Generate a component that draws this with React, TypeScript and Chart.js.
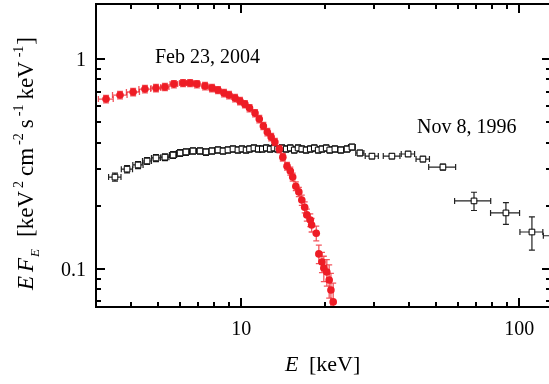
import { useEffect, useRef } from "react";
import { Chart, registerables } from "chart.js";
Chart.register(...registerables);

// Feb 23, 2004 spectrum (red filled circles)
const redE = [3.26, 3.66, 4.08, 4.5, 4.93, 5.31, 5.72, 6.17, 6.54, 6.92, 7.4, 7.84, 8.24, 8.66, 9.03, 9.49, 9.89, 10.3, 10.7, 11.2, 11.6, 12.0, 12.4, 12.8, 13.2, 13.7, 14.1, 14.6, 15.0, 15.3, 15.7, 16.1, 16.5, 16.9, 17.2, 17.7, 17.9, 18.6, 19.0, 19.5, 19.8, 20.3, 20.7, 21.0, 21.4];
const redF = [0.645, 0.674, 0.697, 0.72, 0.728, 0.736, 0.76, 0.769, 0.769, 0.76, 0.744, 0.728, 0.712, 0.689, 0.674, 0.652, 0.631, 0.61, 0.584, 0.553, 0.518, 0.48, 0.449, 0.425, 0.403, 0.373, 0.341, 0.309, 0.293, 0.274, 0.248, 0.233, 0.213, 0.197, 0.181, 0.171, 0.162, 0.148, 0.118, 0.108, 0.101, 0.0968, 0.0886, 0.0794, 0.0697];
const redDE = [0.2, 0.22, 0.22, 0.22, 0.2, 0.18, 0.18, 0.18, 0.17, 0.17, 0.17, 0.17, 0.15, 0.15, 0.15, 0.17, 0.17, 0.18, 0.18, 0.18, 0.17, 0.17, 0.18, 0.18, 0.18, 0.2, 0.2, 0.2, 0.18, 0.18, 0.2, 0.2, 0.2, 0.2, 0.2, 0.2, 0.2, 0.25, 0.25, 0.3, 0.3, 0.3, 0.3, 0.3, 0.3];
const redDF = [0.026, 0.027, 0.028, 0.029, 0.029, 0.029, 0.03, 0.03, 0.03, 0.03, 0.03, 0.029, 0.028, 0.028, 0.027, 0.026, 0.025, 0.024, 0.023, 0.022, 0.021, 0.019, 0.018, 0.017, 0.016, 0.015, 0.014, 0.013, 0.013, 0.012, 0.012, 0.012, 0.012, 0.012, 0.012, 0.012, 0.012, 0.012, 0.012, 0.012, 0.014, 0.014, 0.016, 0.016, 0.016];

// Nov 8, 1996 spectrum (black open squares)
const blackE = [3.51, 3.88, 4.25, 4.58, 4.93, 5.31, 5.68, 6.02, 6.32, 6.7, 7.1, 7.46, 7.84, 8.24, 8.59, 8.95, 9.33, 9.72, 10.05, 10.4, 10.7, 11.1, 11.5, 11.9, 12.3, 12.7, 13.1, 13.5, 14.0, 14.5, 15.0, 15.5, 16.0, 16.5, 17.1, 17.7, 18.3, 18.9, 19.5, 20.2, 20.8, 21.7, 22.8, 24.0, 25.0, 26.7, 29.5, 34.8, 39.8, 45.0, 53.1, 68.7, 89.5, 111, 140];
const blackF = [0.274, 0.299, 0.313, 0.327, 0.338, 0.341, 0.349, 0.357, 0.361, 0.365, 0.365, 0.361, 0.365, 0.369, 0.365, 0.369, 0.373, 0.369, 0.373, 0.369, 0.373, 0.377, 0.373, 0.373, 0.377, 0.373, 0.377, 0.373, 0.377, 0.373, 0.377, 0.369, 0.377, 0.373, 0.369, 0.373, 0.377, 0.369, 0.373, 0.377, 0.369, 0.373, 0.369, 0.373, 0.381, 0.357, 0.345, 0.345, 0.353, 0.334, 0.306, 0.211, 0.185, 0.15, 0.144];
const blackDE = [0.18, 0.18, 0.18, 0.17, 0.18, 0.18, 0.17, 0.18, 0.19, 0.2, 0.18, 0.19, 0.2, 0.2, 0.18, 0.19, 0.2, 0.2, 0.21, 0.22, 0.22, 0.23, 0.24, 0.25, 0.26, 0.27, 0.27, 0.28, 0.29, 0.3, 0.31, 0.32, 0.33, 0.34, 0.36, 0.37, 0.38, 0.4, 0.41, 0.42, 0.45, 0.5, 0.55, 0.6, 0.7, 0.9, 1.6, 2.4, 2.2, 2.5, 5.9, 10.2, 10.7, 10.5, 18];
const blackDF = [0.012, 0.012, 0.012, 0.012, 0.013, 0.013, 0.013, 0.013, 0.013, 0.013, 0.013, 0.013, 0.013, 0.013, 0.013, 0.013, 0.013, 0.013, 0.013, 0.013, 0.013, 0.013, 0.013, 0.013, 0.013, 0.013, 0.013, 0.013, 0.013, 0.013, 0.013, 0.013, 0.013, 0.013, 0.013, 0.013, 0.013, 0.013, 0.013, 0.013, 0.013, 0.013, 0.013, 0.013, 0.013, 0.011, 0.01, 0.01, 0.01, 0.01, 0.01, 0.021, 0.022, 0.027, 0.03];

const xRange = [3, 130];
const yRange = [0.0659, 1.83];
const xMajorTicks = [10, 100];
const xMinorTicks = [4, 5, 6, 7, 8, 9, 20, 30, 40, 50, 60, 70, 80, 90];
const yMajorTicks = [0.1, 1];
const yMinorTicks = [0.07, 0.08, 0.09, 0.2, 0.3, 0.4, 0.5, 0.6, 0.7, 0.8, 0.9];
const xTickLabels = ["10", "100"];
const yTickLabels = ["0.1", "1"];
const labelFeb = "Feb 23, 2004";
const labelNov = "Nov 8, 1996";

const SERIF = "'Liberation Serif', 'Times New Roman', serif";

const errorBarPlugin = {
  id: "errorBars",
  beforeDatasetDraw(chart: any, args: any) {
    const ds = chart.data.datasets[args.index];
    const { ctx, chartArea, scales } = chart;
    const x = scales.x;
    const y = scales.y;
    ctx.save();
    ctx.beginPath();
    ctx.rect(chartArea.left, chartArea.top, chartArea.right - chartArea.left, chartArea.bottom - chartArea.top);
    ctx.clip();
    ctx.strokeStyle = ds.errColor;
    ctx.lineWidth = ds.errWidth;
    const cap = 3;
    ds.data.forEach((p: any, i: number) => {
      const px = x.getPixelForValue(p.x);
      const py = y.getPixelForValue(p.y);
      const x0 = x.getPixelForValue(p.x - ds.errX[i]);
      const x1 = x.getPixelForValue(p.x + ds.errX[i]);
      const y0 = y.getPixelForValue(Math.max(p.y - ds.errY[i], 1e-4));
      const y1 = y.getPixelForValue(p.y + ds.errY[i]);
      ctx.beginPath();
      ctx.moveTo(x0, py); ctx.lineTo(x1, py);
      ctx.moveTo(x0, py - cap); ctx.lineTo(x0, py + cap);
      ctx.moveTo(x1, py - cap); ctx.lineTo(x1, py + cap);
      ctx.moveTo(px, y0); ctx.lineTo(px, y1);
      ctx.moveTo(px - cap, y0); ctx.lineTo(px + cap, y0);
      ctx.moveTo(px - cap, y1); ctx.lineTo(px + cap, y1);
      ctx.stroke();
    });
    ctx.restore();
  },
};

const framePlugin = {
  id: "frame",
  afterDraw(chart: any) {
    const { ctx, chartArea, scales } = chart;
    const { left, right, top, bottom } = chartArea;
    const x = scales.x;
    const y = scales.y;
    ctx.save();
    ctx.strokeStyle = "#000";
    ctx.lineWidth = 2;
    ctx.strokeRect(left, top, right - left, bottom - top);

    const majLen = 9;
    const minLen = 5;
    ctx.beginPath();
    const xt = (v: number, len: number) => {
      const px = Math.round(x.getPixelForValue(v));
      ctx.moveTo(px, bottom); ctx.lineTo(px, bottom - len);
      ctx.moveTo(px, top); ctx.lineTo(px, top + len);
    };
    const yt = (v: number, len: number) => {
      const py = Math.round(y.getPixelForValue(v));
      ctx.moveTo(left, py); ctx.lineTo(left + len, py);
      ctx.moveTo(right, py); ctx.lineTo(right - len, py);
    };
    xMajorTicks.forEach((v) => xt(v, majLen));
    xMinorTicks.forEach((v) => xt(v, minLen));
    yMajorTicks.forEach((v) => yt(v, majLen));
    yMinorTicks.forEach((v) => yt(v, minLen));
    ctx.stroke();

    ctx.fillStyle = "#000";
    ctx.font = `20px ${SERIF}`;
    ctx.textBaseline = "alphabetic";
    ctx.textAlign = "center";
    xMajorTicks.forEach((v, i) => {
      ctx.fillText(xTickLabels[i], x.getPixelForValue(v), bottom + 28);
    });
    ctx.textAlign = "right";
    yMajorTicks.forEach((v, i) => {
      ctx.fillText(yTickLabels[i], left - 10, y.getPixelForValue(v) + 7);
    });

    // annotations
    ctx.textAlign = "left";
    ctx.font = `20px ${SERIF}`;
    ctx.fillText(labelFeb, 155, 63);
    ctx.fillText(labelNov, 417, 133);

    // x title
    ctx.font = `italic 22px ${SERIF}`;
    ctx.fillText("E", 285, 371);
    ctx.font = `22px ${SERIF}`;
    ctx.fillText("[keV]", 309, 371);

    // y title (rotated)
    ctx.translate(33, 290);
    ctx.rotate(-Math.PI / 2);
    const parts: [string, string, number, number][] = [
      ["E", `italic 23px ${SERIF}`, 0, 0],
      ["F", `italic 23px ${SERIF}`, 0, 4],
      ["E", `italic 13px ${SERIF}`, 6, 1],
      ["[keV", `23px ${SERIF}`, 0, 12],
      ["2", `14px ${SERIF}`, -10, 3],
      ["cm", `23px ${SERIF}`, 0, 5],
      ["-2", `14px ${SERIF}`, -10, 3],
      ["s", `23px ${SERIF}`, 0, 5],
      ["-1", `14px ${SERIF}`, -10, 3],
      ["keV", `23px ${SERIF}`, 0, 5],
      ["-1", `14px ${SERIF}`, -10, 4],
      ["]", `23px ${SERIF}`, 0, 1],
    ];
    let cx = 0;
    parts.forEach(([t, f, dy, gap]) => {
      cx += gap;
      ctx.font = f;
      ctx.fillText(t, cx, dy);
      cx += ctx.measureText(t).width;
    });
    ctx.restore();
  },
};

export default function App() {
  const ref = useRef<HTMLCanvasElement>(null);
  useEffect(() => {
    if (!ref.current) return;
    const chart = new Chart(ref.current, {
      type: "scatter",
      data: {
        datasets: [
          {
            label: labelFeb,
            data: redE.map((e, i) => ({ x: e, y: redF[i] })),
            pointStyle: "circle",
            pointRadius: 3.8,
            pointBackgroundColor: "#ee1c25",
            pointBorderColor: "#ee1c25",
            pointBorderWidth: 0,
            showLine: false,
            errX: redDE,
            errY: redDF,
            errColor: "rgba(238,28,37,0.75)",
            errWidth: 1.3,
          } as any,
          {
            label: labelNov,
            data: blackE.map((e, i) => ({ x: e, y: blackF[i] })),
            pointStyle: "rect",
            pointRadius: 4,
            pointBackgroundColor: "#fff",
            pointBorderColor: "#000",
            pointBorderWidth: 1,
            showLine: false,
            errX: blackDE,
            errY: blackDF,
            errColor: "#222",
            errWidth: 1.2,
          } as any,
        ],
      },
      options: {
        animation: false,
        responsive: false,
        devicePixelRatio: 1,
        layout: { autoPadding: false, padding: { left: 96, top: 4, right: 1, bottom: 77 } },
        plugins: { legend: { display: false }, tooltip: { enabled: false } },
        events: [],
        scales: {
          x: { type: "logarithmic", min: xRange[0], max: xRange[1], display: false },
          y: { type: "logarithmic", min: yRange[0], max: yRange[1], display: false },
        },
      },
      plugins: [errorBarPlugin, framePlugin],
    });
    return () => chart.destroy();
  }, []);
  return (
    <div style={{ position: "fixed", left: 0, top: 0, width: 552, height: 384, background: "#fff" }}>
      <canvas ref={ref} width={552} height={384} style={{ display: "block" }} />
    </div>
  );
}
